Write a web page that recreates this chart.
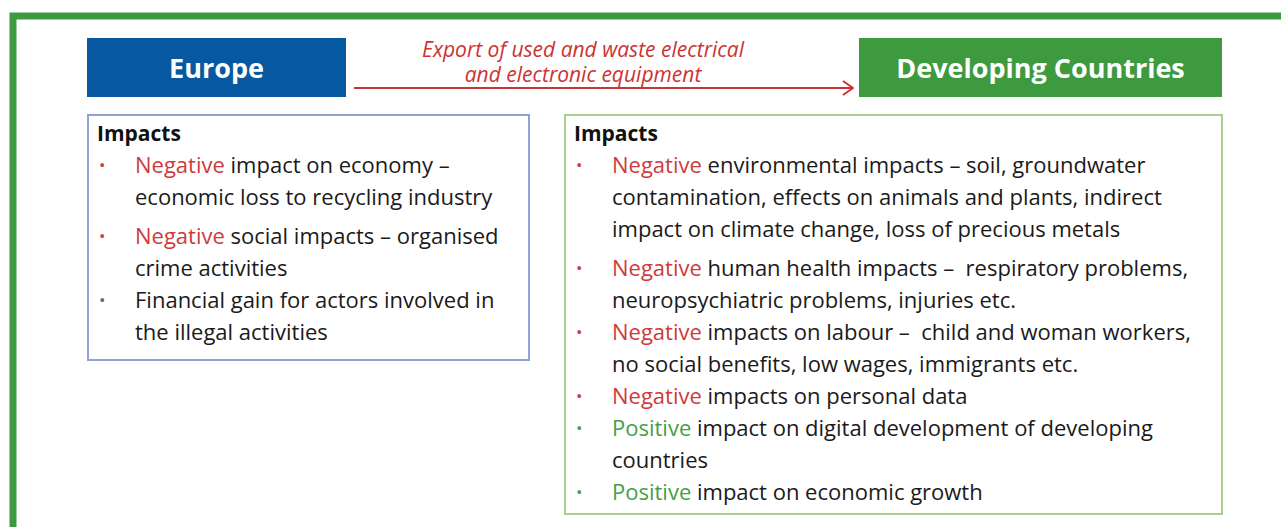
<!DOCTYPE html>
<html>
<head>
<meta charset="utf-8">
<script src="https://cdn.jsdelivr.net/npm/d3@7"></script>
<style>
  body { margin: 0; background: #fff; }
  svg { display: block; font-family: "Open Sans", sans-serif; }
  text { white-space: pre; }
</style>
</head>
<body>
<script>
// regions and the flow between them
const regions = ["Europe", "Developing Countries"];
const flowLabel = ["Export of used and waste electrical", "and electronic equipment"];
const heading = "Impacts";

// bullet items: [tag, first line rest, following lines...]
const europeItems = [
  ["Negative", " impact on economy –", "economic loss to recycling industry"],
  ["Negative", " social impacts – organised", "crime activities"],
  ["", "Financial gain for actors involved in", "the illegal activities"]
];
const developingItems = [
  ["Negative", " environmental impacts – soil, groundwater", "contamination, effects on animals and plants, indirect", "impact on climate change, loss of precious metals"],
  ["Negative", " human health impacts –  respiratory problems,", "neuropsychiatric problems, injuries etc."],
  ["Negative", " impacts on labour –  child and woman workers,", "no social benefits, low wages, immigrants etc."],
  ["Negative", " impacts on personal data"],
  ["Positive", " impact on digital development of developing", "countries"],
  ["Positive", " impact on economic growth"]
];

const width = 1281;
const height = 527;
const blue = "#0659a0";
const green = "#3e9a3e";
const red = "#cc3333";
const tagColor = { Negative: "#d03a3a", Positive: "#46a046", "": "#666" };

const svg = d3
  .select("body")
  .append("svg")
  .attr("width", width)
  .attr("height", height);

svg.append("defs")
  .append("marker")
  .attr("id", "arrow")
  .attr("viewBox", "0 0 12 16")
  .attr("refX", 11)
  .attr("refY", 8)
  .attr("markerWidth", 12)
  .attr("markerHeight", 16)
  .attr("markerUnits", "userSpaceOnUse")
  .attr("orient", "auto")
  .append("path")
  .attr("d", "M1,1 L11,8 L1,15")
  .attr("fill", "none")
  .attr("stroke", red)
  .attr("stroke-width", 2);

// outer frame
svg
  .append("rect")
  .attr("x", 13)
  .attr("y", 16)
  .attr("width", width + 20)
  .attr("height", height + 20)
  .attr("fill", "none")
  .attr("stroke", green)
  .attr("stroke-width", 7);

// header boxes
const headers = [
  { name: regions[0], x: 87, w: 259, fill: blue },
  { name: regions[1], x: 859, w: 363, fill: green }
];

svg
  .selectAll("rect.header")
  .data(headers)
  .enter()
  .append("rect")
  .attr("class", "header")
  .attr("x", (d) => d.x)
  .attr("y", 38)
  .attr("width", (d) => d.w)
  .attr("height", 59)
  .attr("fill", (d) => d.fill);

svg
  .selectAll("text.header")
  .data(headers)
  .enter()
  .append("text")
  .attr("class", "header")
  .attr("x", (d) => d.x + d.w / 2)
  .attr("y", 78)
  .attr("text-anchor", "middle")
  .attr("fill", "#fff")
  .attr("font-weight", "bold")
  .attr("font-size", "27px")
  .text((d) => d.name);

// arrow
svg
  .append("line")
  .attr("x1", 354)
  .attr("x2", 853)
  .attr("y1", 88)
  .attr("y2", 88)
  .attr("stroke", red)
  .attr("stroke-width", 2)
  .attr("marker-end", "url(#arrow)");

svg
  .selectAll("text.flow")
  .data(flowLabel)
  .enter()
  .append("text")
  .attr("class", "flow")
  .attr("x", 583)
  .attr("y", (d, i) => 57 + i * 25)
  .attr("text-anchor", "middle")
  .attr("fill", red)
  .attr("font-style", "italic")
  .attr("font-size", "21px")
  .text((d) => d);

// impact boxes
function drawBox(x, w, h, stroke, items) {
  const g = svg.append("g");
  g.append("rect")
    .attr("x", x)
    .attr("y", 115)
    .attr("width", w)
    .attr("height", h)
    .attr("fill", "#fff")
    .attr("stroke", stroke)
    .attr("stroke-width", 2);

  g.append("text")
    .attr("x", x + 9)
    .attr("y", 141)
    .attr("font-weight", "bold")
    .attr("font-size", "21px")
    .attr("fill", "#111")
    .text(heading);

  let line = 0;
  items.forEach((item, i) => {
    const y0 = 173 + line * 32 + (i > 0 ? 7 : 0);
    g.append("text")
      .attr("x", x + 11)
      .attr("y", y0 - 2)
      .attr("font-size", "17px")
      .attr("fill", tagColor[item[0]])
      .text("•");

    item.slice(1).forEach((txt, j) => {
      const t = g
        .append("text")
        .attr("x", x + 47)
        .attr("y", y0 + j * 32)
        .attr("font-size", "22px")
        .attr("fill", "#1a1a1a");
      if (j === 0 && item[0]) {
        t.append("tspan").attr("fill", tagColor[item[0]]).text(item[0]);
      }
      t.append("tspan").text(txt);
    });
    line += item.length - 1;
  });
}

drawBox(88, 441, 245, "#8ea3d4", europeItems);
drawBox(565, 657, 399, "#a9d08e", developingItems);
</script>
</body>
</html>
